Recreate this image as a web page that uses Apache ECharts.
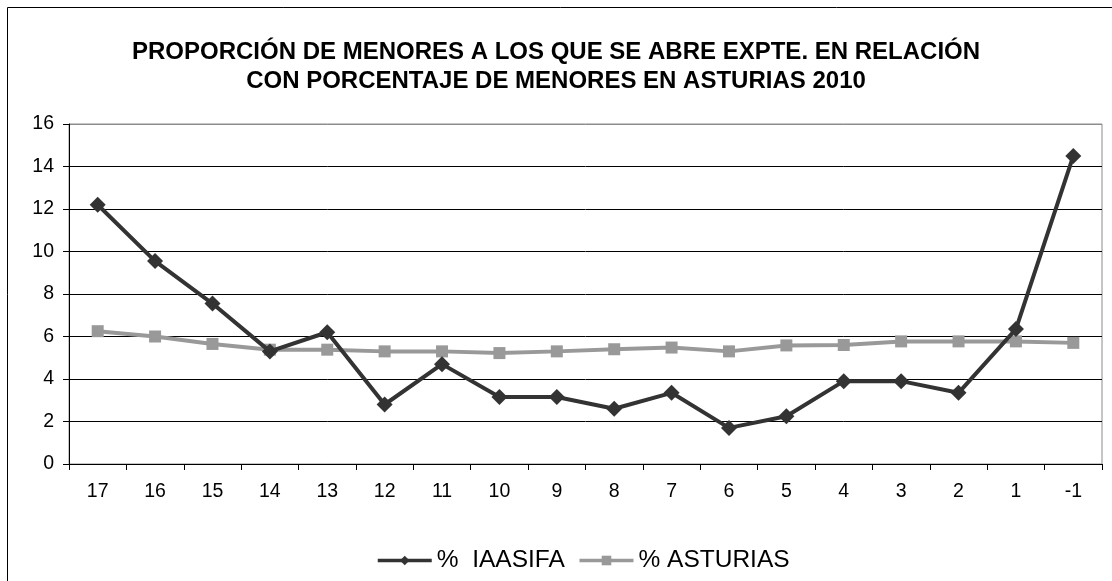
<!DOCTYPE html>
<html>
<head>
<meta charset="utf-8">
<script src="https://cdn.jsdelivr.net/npm/echarts@6/dist/echarts.min.js"></script>
<style>
  html, body { margin: 0; padding: 0; background: #fff; }
  #chart { width: 1112px; height: 581px; }
</style>
</head>
<body>
<div id="chart"></div>
<script>
// edades (años) del eje x
const edades = ['17', '16', '15', '14', '13', '12', '11', '10', '9', '8', '7', '6', '5', '4', '3', '2', '1', '-1']
// % menores con expediente abierto
const iaasifa = [12.2, 9.55, 7.55, 5.3, 6.2, 2.8, 4.7, 3.15, 3.15, 2.6, 3.35, 1.7, 2.25, 3.9, 3.9, 3.35, 6.35, 14.5]
// % menores en Asturias
const asturias = [6.25, 6.0, 5.65, 5.38, 5.38, 5.3, 5.3, 5.22, 5.3, 5.4, 5.48, 5.3, 5.58, 5.6, 5.77, 5.77, 5.77, 5.7]
const nombres = ['%  IAASIFA', '% ASTURIAS']

const chart = echarts.init(document.getElementById('chart'))

const option = {
  animation: false,
  textStyle: { fontFamily: 'Liberation Sans, Arial, sans-serif', color: '#000' },
  title: {
    text: 'PROPORCIÓN DE MENORES A LOS QUE SE ABRE EXPTE. EN RELACIÓN\nCON PORCENTAJE DE MENORES EN ASTURIAS 2010',
    left: 'center',
    top: 33,
    textStyle: {
      fontFamily: 'Liberation Sans, Arial, sans-serif',
      fontSize: 24,
      fontWeight: 'bold',
      lineHeight: 29,
      color: '#000'
    }
  },
  grid: {
    left: 69,
    right: 10,
    top: 124,
    bottom: 117,
    show: true,
    borderColor: '#8c8c8c',
    borderWidth: 1
  },
  legend: {
    data: nombres,
    top: 543,
    left: 371,
    itemWidth: 54,
    itemHeight: 12,
    itemGap: 13,
    lineStyle: { width: 3.5 },
    textStyle: { fontSize: 24.5, color: '#000' }
  },
  xAxis: {
    type: 'category',
    data: edades,
    boundaryGap: true,
    axisLine: { lineStyle: { color: '#000', width: 1 } },
    axisTick: { show: true, length: 6, lineStyle: { color: '#000' } },
    axisLabel: { fontSize: 19.5, color: '#000', margin: 18 }
  },
  yAxis: {
    type: 'value',
    min: 0,
    max: 16,
    interval: 2,
    axisLine: { show: true, lineStyle: { color: '#000', width: 1 } },
    axisTick: { show: true, inside: false, length: 6, lineStyle: { color: '#000' } },
    axisLabel: { fontSize: 19.5, color: '#000', margin: 15 },
    splitLine: { lineStyle: { color: ['#000', '#000', '#000', '#000', '#000', '#000', '#000', '#000', '#8c8c8c'], width: 1 } }
  },
  series: [
    {
      name: nombres[0],
      type: 'line',
      data: iaasifa,
      symbol: 'diamond',
      symbolSize: 16,
      itemStyle: { color: '#333333' },
      lineStyle: { color: '#333333', width: 4 },
      z: 3
    },
    {
      name: nombres[1],
      type: 'line',
      data: asturias,
      symbol: 'rect',
      symbolSize: 12,
      itemStyle: { color: '#999999' },
      lineStyle: { color: '#999999', width: 4 },
      z: 2
    }
  ],
  graphic: [
    {
      type: 'rect',
      shape: { x: 7.5, y: 7.5, width: 1200, height: 700 },
      style: { fill: 'none', stroke: '#000', lineWidth: 1 },
      silent: true
    }
  ]
}

chart.setOption(option)

window.addEventListener('resize', function () {
  chart.resize()
})
</script>
</body>
</html>
